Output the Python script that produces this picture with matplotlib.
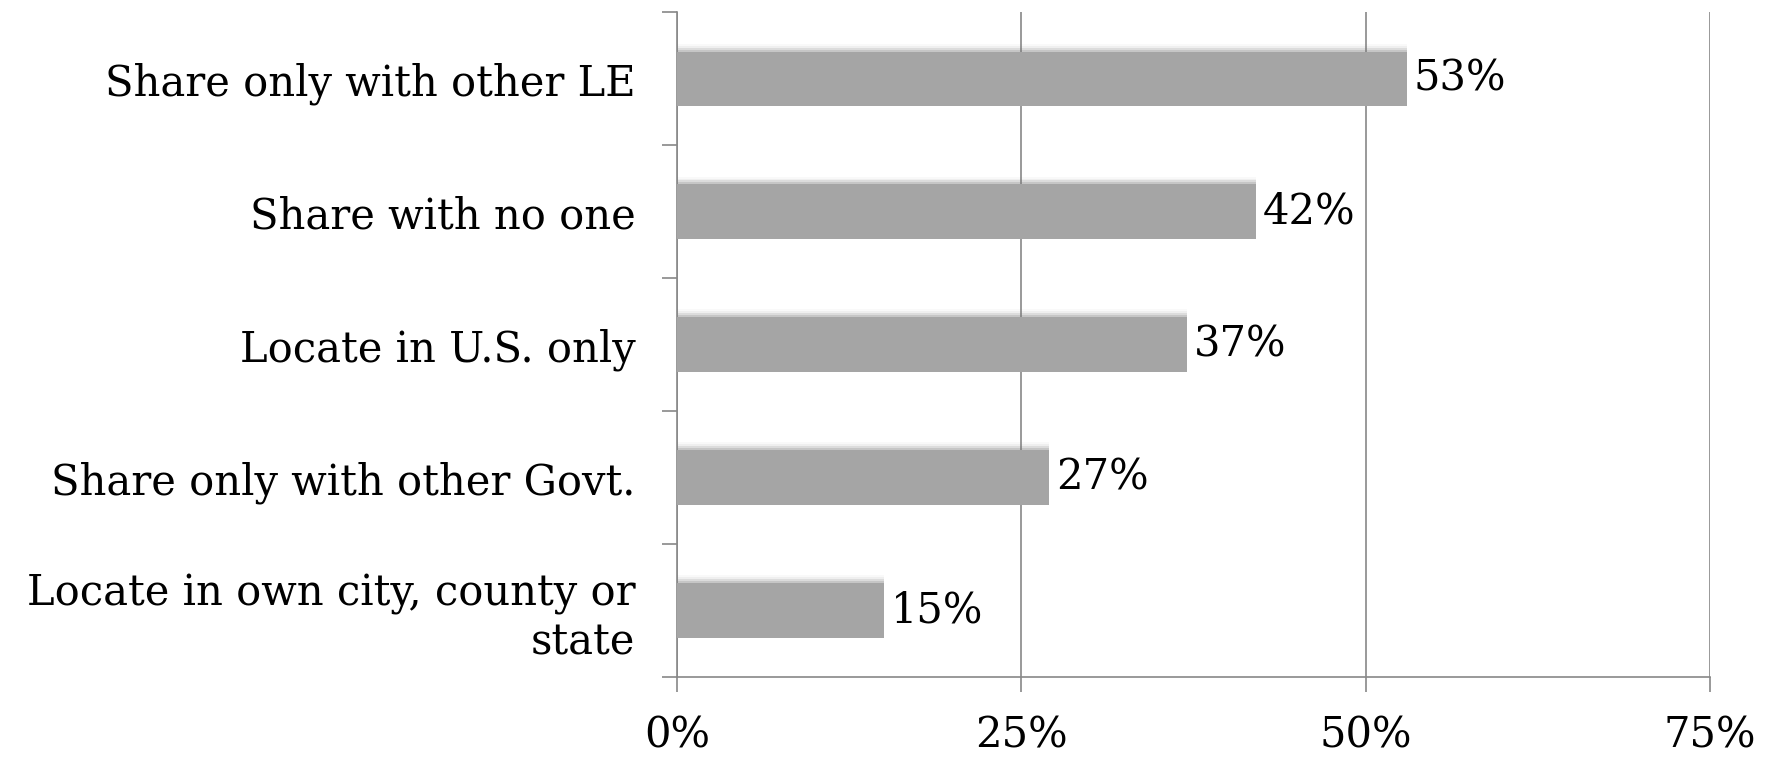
import matplotlib.pyplot as plt
import numpy as np

categories = ['Share only with other LE', 'Share with no one', 'Locate in U.S. only',
              'Share only with other Govt.', 'Locate in own city, county or\nstate']
values = [53, 42, 37, 27, 15]
xticks = [0, 25, 50, 75]

plt.rcParams['font.family'] = ['DejaVu Serif']
fig = plt.figure(figsize=(17.69, 7.57), dpi=100)
ax = fig.add_axes([0.3827, 0.1057, 0.584, 0.878])

ind = np.arange(len(categories))
h = 0.41
# soft shadow
for k, a in [(0.015, 0.22), (0.03, 0.14), (0.045, 0.08), (0.06, 0.04)]:
    ax.barh(ind - k, np.array(values) + k * 2, h, left=-k * 2, color='#777777', alpha=a, zorder=2, linewidth=0)
ax.barh(ind, values, h, color='#a5a5a5', zorder=3)

for i, v in enumerate(values):
    ax.text(v + 0.5, i, f'{v}%', va='center', ha='left', fontsize=30, zorder=4)

ax.set_xlim(0, 75)
ax.set_ylim(len(categories) - 0.5, -0.5)
ax.set_xticks(xticks)
ax.set_xticklabels([f'{t}%' for t in xticks], fontsize=30)
ax.set_yticks(np.arange(len(categories) + 1) - 0.5, minor=False)
ax.set_yticklabels([])
ax.set_yticks(ind, minor=True)
ax.set_yticklabels(categories, minor=True, fontsize=30, ha='right', linespacing=1.2)
ax.tick_params(axis='y', which='minor', length=0, pad=30)
ax.tick_params(axis='y', which='major', length=11, color='#888888', width=1.2)
ax.tick_params(axis='x', length=11, color='#888888', width=1.2, pad=16)

ax.grid(axis='x', color='#888888', linewidth=1.2, zorder=1)
for s in ['top', 'right']:
    ax.spines[s].set_visible(False)
for s in ['left', 'bottom']:
    ax.spines[s].set_color('#888888')
    ax.spines[s].set_linewidth(1.2)
ax.set_axisbelow(True)

fig.savefig('out.png', dpi=100)
